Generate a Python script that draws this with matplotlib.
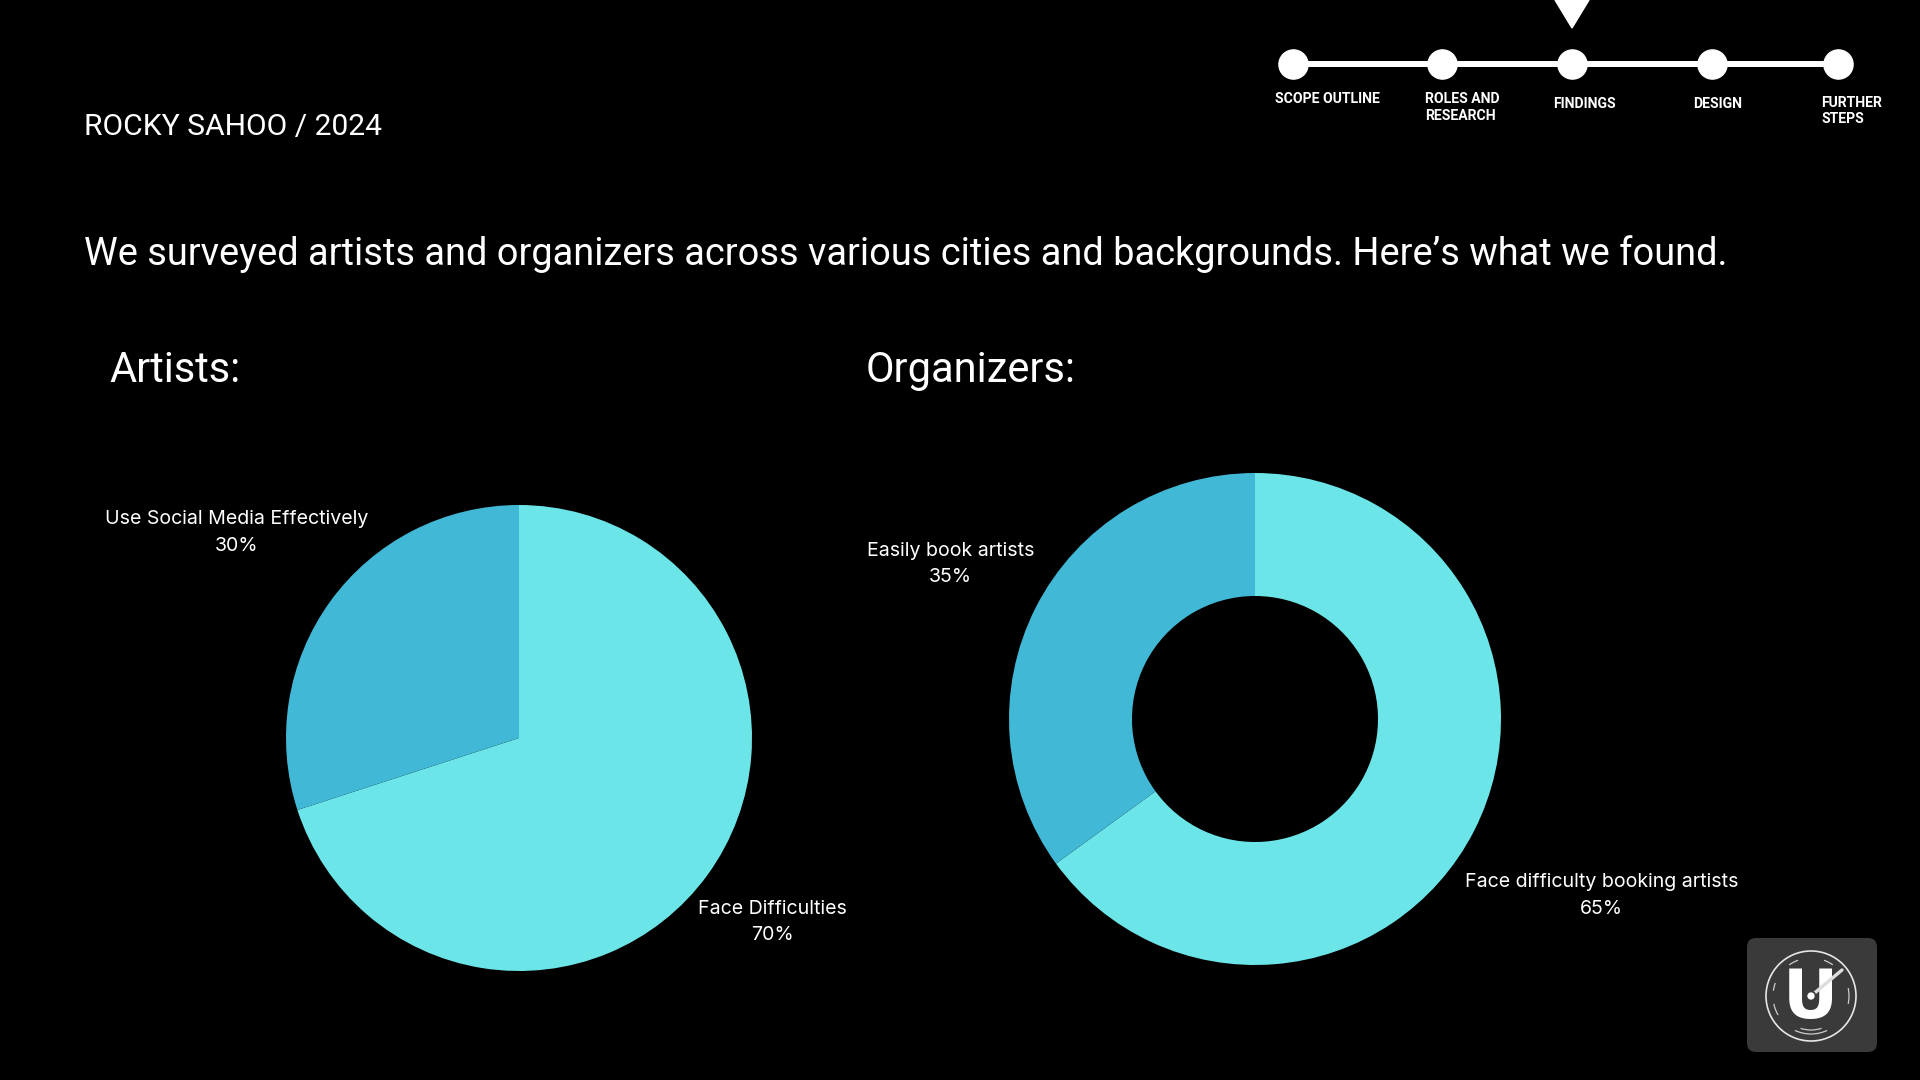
import matplotlib
matplotlib.use("Agg")
import matplotlib.pyplot as plt
from matplotlib import font_manager
from matplotlib.patches import FancyBboxPatch, Circle, Arc, Polygon
import numpy as np

# ---- data ----
artist_labels = ["Face Difficulties", "Use Social Media Effectively"]
artist_values = [70, 30]
organizer_labels = ["Face difficulty booking artists", "Easily book artists"]
organizer_values = [65, 35]
nav_steps = ["SCOPE OUTLINE", "ROLES AND\nRESEARCH", "FINDINGS", "DESIGN", "FURTHER\nSTEPS"]
current_step = 2

W, H = 1920, 1080
LIGHT = "#6CE5E8"
DARK = "#41B8D5"

_names = {f.name for f in font_manager.fontManager.ttflist}

def pick(*fams):
    # first installed family, DejaVu as last resort
    got = [f for f in fams if f in _names]
    return got[:1] + ["DejaVu Sans"]

HEAD_FONT = pick("Roboto")
LABEL_FONT = pick("Inter", "Open Sans", "Lato")

fig = plt.figure(figsize=(W / 100, H / 100), dpi=100, facecolor="black")

# full-size background axes in pixel coords (y down)
bg = fig.add_axes([0, 0, 1, 1])
bg.set_xlim(0, W)
bg.set_ylim(H, 0)
bg.axis("off")
bg.set_facecolor("black")

# header texts
bg.text(84, 135, "ROCKY SAHOO / 2024", color="white", fontsize=21.6,
        family=HEAD_FONT, va="baseline", ha="left")
bg.text(84, 265, "We surveyed artists and organizers across various cities and backgrounds. Here\u2019s what we found.",
        color="white", fontsize=27.4, family=HEAD_FONT, va="baseline", ha="left")
bg.text(109, 382, "Artists:", color="white", fontsize=30, family=HEAD_FONT, va="baseline", ha="left")
bg.text(866, 382, "Organizers:", color="white", fontsize=30, family=HEAD_FONT, va="baseline", ha="left")

# progress nav
nav_x = [1293, 1442, 1572, 1712, 1838]
nav_label_x = [1275, 1425, 1553, 1693, 1821]
nav_label_y = [99, 107.5, 103.5, 103.5, 111]
bg.plot([nav_x[0], nav_x[-1]], [64, 64], color="white", lw=4.3, solid_capstyle="butt", zorder=2)
bg.plot(nav_x, [64] * len(nav_x), "o", color="white", ms=21, zorder=3)
for i, step in enumerate(nav_steps):
    bg.text(nav_label_x[i], nav_label_y[i], step, color="white", fontsize=10.1, fontweight="bold",
            family=HEAD_FONT, va="center", ha="left", linespacing=1.2)
cx = nav_x[current_step]
bg.add_patch(Polygon([[cx - 17, 0], [cx + 17, 0], [cx, 28]], closed=True, color="white", zorder=3))

# pies
def px_axes(cx, cy, r):
    return fig.add_axes([(cx - r) / W, 1 - (cy + r) / H, 2 * r / W, 2 * r / H])

def draw_pie(ax, values, labels, dists, width=None):
    wp = dict(linewidth=0, edgecolor="none")
    if width is not None:
        wp["width"] = width
    wedges, _ = ax.pie(values, colors=[LIGHT, DARK], startangle=90, counterclock=False,
                       radius=1, wedgeprops=wp)
    ax.set_xlim(-1, 1)
    ax.set_ylim(-1, 1)
    ax.axis("off")
    for w, lab, v, d in zip(wedges, labels, values, dists):
        mid = np.deg2rad((w.theta1 + w.theta2) / 2)
        ax.text(d * np.cos(mid), d * np.sin(mid), f"{lab}\n{v}%", color="white",
                fontsize=14.1, family=LABEL_FONT, ha="center", va="center",
                multialignment="center", linespacing=1.6)

ax1 = px_axes(519, 738, 233)
draw_pie(ax1, artist_values, artist_labels, [1.345, 1.50])
ax2 = px_axes(1255, 719, 246)
draw_pie(ax2, organizer_values, organizer_labels, [1.58, 1.39], width=0.5)

# logo badge
bg.add_patch(FancyBboxPatch((1747, 938), 130, 114, boxstyle="round,pad=0,rounding_size=9",
                            facecolor="#3A3A3A", edgecolor="none", zorder=2))
lx, ly = 1811, 996
bg.add_patch(Circle((lx, ly), 45, fill=False, edgecolor="#E6E6E6", lw=1.2, zorder=3))
for r, t1, t2 in [(38, 65, 115), (34, 72, 108), (38, 150, 168), (38, 188, 200),
                  (38, -12, 12), (38, 235, 250), (38, 290, 305)]:
    bg.add_patch(Arc((lx, ly), 2 * r, 2 * r, theta1=t1, theta2=t2, color="#CCCCCC", lw=0.9, zorder=3))
bg.text(lx - 1, ly + 3, "U", color="white", fontsize=49, fontweight="bold", family=["DejaVu Sans"],
        ha="center", va="center", zorder=4)
bg.plot([lx, lx + 31], [ly, ly - 26], color="#DDDDDD", lw=2.4, solid_capstyle="round", zorder=5)
bg.add_patch(Circle((lx, ly), 4.5, facecolor="white", edgecolor="#3A3A3A", lw=1.2, zorder=6))

fig.savefig("out.png", dpi=100, facecolor="black")
